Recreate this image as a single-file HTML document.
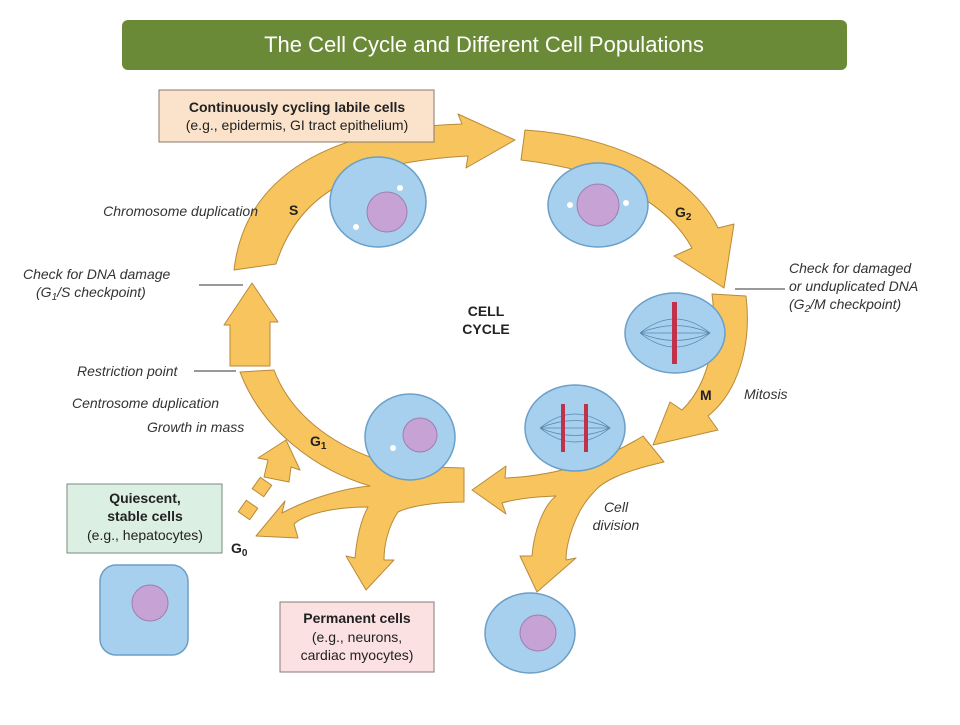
<!DOCTYPE html>
<html><head><meta charset="utf-8"><style>
body{margin:0;width:960px;height:720px;background:#fff;overflow:hidden;font-family:"Liberation Sans",sans-serif}
</style></head><body>
<svg width="960" height="720" viewBox="0 0 960 720" xmlns="http://www.w3.org/2000/svg" font-family="Liberation Sans, sans-serif">
<rect x="122" y="20" width="725" height="50" rx="6" fill="#6b8a38"/>
<text x="484" y="52" font-size="22" fill="#fff" text-anchor="middle">The Cell Cycle and Different Cell Populations</text>

<g fill="#f7c45e" stroke="#b88a3a" stroke-width="1" stroke-linejoin="round">
<path d="M234,270 C245,175 330,128 462,124 L458,114 L515,140 L466,168 L468,156 C360,162 300,190 276,264 Z"/>
<path d="M525,130 C620,136 695,178 718,228 L734,224 L724,288 L674,256 L692,248 C668,204 610,170 521,160 Z"/>
<path d="M712,294 L746,296 C752,345 738,392 708,416 L718,430 L653,445 L670,402 L682,410 C708,385 718,340 712,294 Z"/>
<path d="M643,436 L664,462 C620,472 602,482 594,492 C574,512 566,545 566,560 L576,558 L537,592 L520,556 L532,556 C534,530 544,505 556,496 C530,497 512,500 502,503 L506,514 L472,490 L506,466 L505,478 C560,476 608,458 643,436 Z"/>
<path d="M240,372 L274,370 C292,418 340,452 400,466 L464,468 L464,502 C432,502 408,507 398,512 C388,527 384,545 384,560 L394,560 L366,590 L346,556 L355,558 C357,535 362,518 368,507 C330,507 304,515 294,524 L298,538 L256,536 L285,501 L282,513 C310,498 345,488 370,486 C316,470 262,430 240,372 Z"/>
<path d="M230,366 L230,325 L224,325 L252,283 L278,322 L270,322 L270,366 Z"/>
<path d="M264,477 L268,460 L258,458 L286,440 L300,470 L291,467 L289,482 Z"/>
<rect x="255" y="480" width="14" height="14" transform="rotate(35 262 487)"/>
<rect x="241" y="503" width="14" height="14" transform="rotate(35 248 510)"/>
</g>

<g stroke="#6b9fc7" stroke-width="1.5">
<ellipse cx="378" cy="202" rx="48" ry="45" fill="#a6d0ee"/>
<ellipse cx="598" cy="205" rx="50" ry="42" fill="#a6d0ee"/>
<ellipse cx="675" cy="333" rx="50" ry="40" fill="#a6d0ee"/>
<ellipse cx="575" cy="428" rx="50" ry="43" fill="#a6d0ee"/>
<ellipse cx="410" cy="437" rx="45" ry="43" fill="#a6d0ee"/>
<ellipse cx="530" cy="633" rx="45" ry="40" fill="#a6d0ee"/>
<rect x="100" y="565" width="88" height="90" rx="16" fill="#a6d0ee"/>
</g>
<g fill="#c6a3d4" stroke="#9d7fb0" stroke-width="1">
<circle cx="387" cy="212" r="20"/>
<circle cx="598" cy="205" r="21"/>
<circle cx="420" cy="435" r="17"/>
<circle cx="538" cy="633" r="18"/>
<circle cx="150" cy="603" r="18"/>
</g>
<g stroke="#5a86ad" stroke-width="0.8" fill="none">
<path d="M640,333 Q675,305 710,333 Q675,361 640,333 M640,333 Q675,318 710,333 Q675,348 640,333 M640,333 L710,333"/>
<path d="M540,428 Q575,400 610,428 Q575,456 540,428 M540,428 Q575,413 610,428 Q575,443 540,428 M540,428 L610,428"/>
</g>
<g fill="#c0324a">
<rect x="672" y="302" width="5" height="62"/>
<rect x="561" y="404" width="4" height="48"/><rect x="584" y="404" width="4" height="48"/>
</g>
<g fill="#fff"><circle cx="356" cy="227" r="3"/><circle cx="400" cy="188" r="3"/><circle cx="570" cy="205" r="3"/><circle cx="626" cy="203" r="3"/><circle cx="393" cy="448" r="3"/></g>

<rect x="159" y="90" width="275" height="52" fill="#fbe3cb" stroke="#8a7a6a"/>
<text x="297" y="112" font-size="14" font-weight="bold" text-anchor="middle" fill="#222">Continuously cycling labile cells</text>
<text x="297" y="130" font-size="14" text-anchor="middle" fill="#222">(e.g., epidermis, GI tract epithelium)</text>
<rect x="67" y="484" width="155" height="69" fill="#dcefe3" stroke="#7a8a80"/>
<text x="145" y="503" font-size="14" font-weight="bold" text-anchor="middle" fill="#222">Quiescent,</text>
<text x="145" y="521" font-size="14" font-weight="bold" text-anchor="middle" fill="#222">stable cells</text>
<text x="145" y="540" font-size="14" text-anchor="middle" fill="#222">(e.g., hepatocytes)</text>
<rect x="280" y="602" width="154" height="70" fill="#fbe1e2" stroke="#8a7a7a"/>
<text x="357" y="623" font-size="14" font-weight="bold" text-anchor="middle" fill="#222">Permanent cells</text>
<text x="357" y="642" font-size="14" text-anchor="middle" fill="#222">(e.g., neurons,</text>
<text x="357" y="660" font-size="14" text-anchor="middle" fill="#222">cardiac myocytes)</text>

<g font-size="14" font-style="italic" fill="#333">
<text x="258" y="216" text-anchor="end">Chromosome duplication</text>
<text x="23" y="279">Check for DNA damage</text>
<text x="36" y="297">(G<tspan font-size="10" dy="3">1</tspan><tspan dy="-3">/S checkpoint)</tspan></text>
<text x="77" y="376">Restriction point</text>
<text x="72" y="408">Centrosome duplication</text>
<text x="147" y="432">Growth in mass</text>
<text x="789" y="273">Check for damaged</text>
<text x="789" y="291">or unduplicated DNA</text>
<text x="789" y="309">(G<tspan font-size="10" dy="3">2</tspan><tspan dy="-3">/M checkpoint)</tspan></text>
<text x="744" y="399">Mitosis</text>
<text x="616" y="512" text-anchor="middle">Cell</text>
<text x="616" y="530" text-anchor="middle">division</text>
</g>
<g stroke="#333" stroke-width="1">
<line x1="199" y1="285" x2="243" y2="285"/>
<line x1="194" y1="371" x2="236" y2="371"/>
<line x1="735" y1="289" x2="785" y2="289"/>
</g>
<g font-size="14" font-weight="bold" fill="#222">
<text x="289" y="215">S</text>
<text x="675" y="217">G<tspan font-size="10" dy="3">2</tspan></text>
<text x="700" y="400">M</text>
<text x="310" y="446">G<tspan font-size="10" dy="3">1</tspan></text>
<text x="231" y="553">G<tspan font-size="10" dy="3">0</tspan></text>
<text x="486" y="316" text-anchor="middle">CELL</text>
<text x="486" y="334" text-anchor="middle">CYCLE</text>
</g>
</svg>
</body></html>
